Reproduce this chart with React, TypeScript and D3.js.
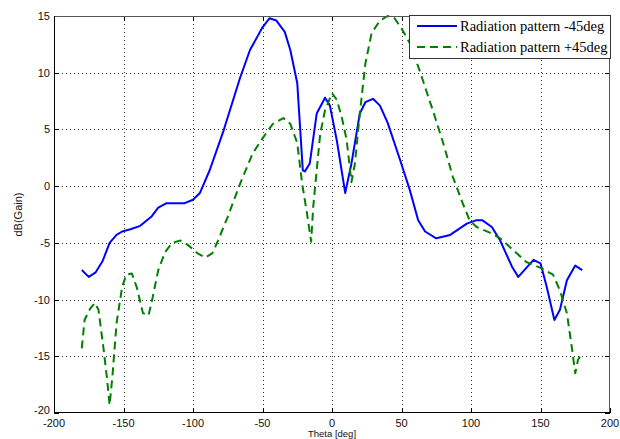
import React from "react";
import * as d3 from "d3";

const xTicks = [-200, -150, -100, -50, 0, 50, 100, 150, 200];
const yTicks = [-20, -15, -10, -5, 0, 5, 10, 15];

const seriesNames = ["Radiation pattern -45deg", "Radiation pattern +45deg"];

const thetaMinus45 = [-180,-175,-170,-165,-160,-155,-151,-145,-138,-130,-125,-119,-112,-106,-100,-95,-88,-78,-66,-59,-50,-45,-40,-34,-30,-25,-21,-19.5,-16,-11,-5,-1.5,3.5,9.5,14,20,24,29.5,34.5,40,49,56,62,67,75,85,97,104,108,115,121,129.5,134,145,150,154.5,160,164,169,175,180];
const gainMinus45 = [-7.4,-8.0,-7.6,-6.6,-5.0,-4.3,-4.0,-3.8,-3.5,-2.7,-1.9,-1.5,-1.5,-1.5,-1.2,-0.6,1.4,4.9,9.6,12.0,14.0,14.8,14.6,13.6,12.0,9.1,1.4,1.3,2.0,6.4,7.8,7.1,4.0,-0.6,2.0,6.4,7.4,7.7,7.1,5.6,2.3,-0.35,-3.0,-4.0,-4.6,-4.3,-3.3,-3.0,-3.0,-3.6,-4.8,-7.1,-8.0,-6.5,-6.8,-8.9,-11.8,-10.9,-8.3,-7.0,-7.4];

const thetaPlus45 = [-180,-178,-174,-170.5,-168,-164.5,-162,-160,-158,-155,-151,-148,-144,-140.5,-136,-132,-129,-125,-120,-115,-109,-103.5,-97,-91,-86,-82,-75,-66,-57,-49.5,-42.5,-35,-30,-25,-21.5,-18,-15,-13.5,-8.5,-5,0,3.5,7,10.5,14,16.5,20,24,28.5,34.5,40,45,51,56,63,72.5,80,87,94,99,104,113.5,121,130,140,150,159,164,169,172.5,175,177,180];
const gainPlus45 = [-14.3,-11.8,-10.8,-10.3,-10.9,-14.2,-16.8,-19.3,-16.8,-12.1,-8.9,-7.8,-7.7,-8.9,-11.2,-11.4,-9.8,-7.4,-5.8,-5.0,-4.8,-5.2,-5.9,-6.3,-5.9,-4.8,-2.7,0.25,2.9,4.3,5.5,6.0,5.5,3.8,0.25,-2.4,-4.9,-1.8,4.6,6.7,8.2,7.6,6.1,4.1,0.35,2.0,6.4,10.8,13.5,14.6,15.0,14.8,13.7,12.6,10.2,6.7,3.8,0.8,-1.5,-3.0,-3.6,-4.1,-4.6,-5.6,-6.7,-7.2,-7.8,-9.2,-11.2,-14.2,-16.5,-15.3,-14.7];

const W = 620, H = 439;
const L = 54, R = 610, T = 16, B = 413;

export default function App() {
  const x = d3.scaleLinear().domain([-200, 200]).range([L, R]);
  const y = d3.scaleLinear().domain([-20, 15]).range([B, T]);
  const line = d3.line<[number, number]>().x(d => x(d[0])).y(d => y(d[1]));
  const blue = line(thetaMinus45.map((t, i) => [t, gainMinus45[i]] as [number, number])) || "";
  const green = line(thetaPlus45.map((t, i) => [t, gainPlus45[i]] as [number, number])) || "";
  const font = "'Liberation Sans', Arial, sans-serif";
  return (
    <svg width={W} height={H} style={{ position: "absolute", left: 0, top: 0, background: "#fff" }}>
      <rect x={0} y={0} width={W} height={H} fill="#fff" />
      {/* grid */}
      <g stroke="#333" strokeWidth={1} strokeDasharray="1,3" shapeRendering="crispEdges">
        {xTicks.slice(1, -1).map(t => (
          <line key={"gx" + t} x1={Math.round(x(t)) + 0.5} x2={Math.round(x(t)) + 0.5} y1={T} y2={B} />
        ))}
        {yTicks.slice(1, -1).map(t => (
          <line key={"gy" + t} x1={L} x2={R} y1={Math.round(y(t)) + 0.5} y2={Math.round(y(t)) + 0.5} />
        ))}
      </g>
      {/* ticks */}
      <g stroke="#000" strokeWidth={1} shapeRendering="crispEdges">
        {xTicks.map(t => (
          <g key={"tx" + t}>
            <line x1={Math.round(x(t)) + 0.5} x2={Math.round(x(t)) + 0.5} y1={B} y2={B - 5} />
            <line x1={Math.round(x(t)) + 0.5} x2={Math.round(x(t)) + 0.5} y1={T} y2={T + 5} />
          </g>
        ))}
        {yTicks.map(t => (
          <g key={"ty" + t}>
            <line x1={L} x2={L + 5} y1={Math.round(y(t)) + 0.5} y2={Math.round(y(t)) + 0.5} />
            <line x1={R} x2={R - 5} y1={Math.round(y(t)) + 0.5} y2={Math.round(y(t)) + 0.5} />
          </g>
        ))}
      </g>
      {/* data */}
      <path d={blue} fill="none" stroke="#0000ff" strokeWidth={2} strokeLinejoin="round" />
      <path d={green} fill="none" stroke="#008000" strokeWidth={2} strokeDasharray="8,5" strokeLinejoin="round" />
      {/* axes box */}
      <g shapeRendering="crispEdges" fill="none">
        <line x1={L} x2={R} y1={T + 0.5} y2={T + 0.5} stroke="#555" />
        <line x1={R - 0.5} x2={R - 0.5} y1={T} y2={B} stroke="#555" />
        <line x1={L + 0.5} x2={L + 0.5} y1={T} y2={B} stroke="#000" />
        <line x1={L} x2={R} y1={B - 0.5} y2={B - 0.5} stroke="#000" />
      </g>
      {/* tick labels */}
      <g fontFamily={font} fontSize={11} fill="#111">
        {xTicks.map(t => (
          <text key={"lx" + t} x={x(t)} y={426.5} textAnchor="middle">{t}</text>
        ))}
        {yTicks.map(t => (
          <text key={"ly" + t} x={L - 4} y={y(t) + (t === -20 ? 1 : 4)} textAnchor="end">{t}</text>
        ))}
        <text x={x(0)} y={437} textAnchor="middle" fontSize={9.5}>Theta [deg]</text>
        <text transform={`translate(22,${(T + B) / 2}) rotate(-90)`} textAnchor="middle">dB(Gain)</text>
      </g>
      {/* legend */}
      <g>
        <rect x={409.5} y={15.5} width={201} height={43} fill="#fff" stroke="#333" strokeWidth={1} />
        <line x1={417} x2={457} y1={26} y2={26} stroke="#0000ff" strokeWidth={2} />
        <line x1={417} x2={457} y1={47} y2={47} stroke="#008000" strokeWidth={2} strokeDasharray="8,5" />
        <g fontFamily="'Liberation Serif', 'Times New Roman', serif" fontSize={14.5} fill="#000">
          <text x={460} y={31}>{seriesNames[0]}</text>
          <text x={460} y={52}>{seriesNames[1]}</text>
        </g>
      </g>
    </svg>
  );
}
